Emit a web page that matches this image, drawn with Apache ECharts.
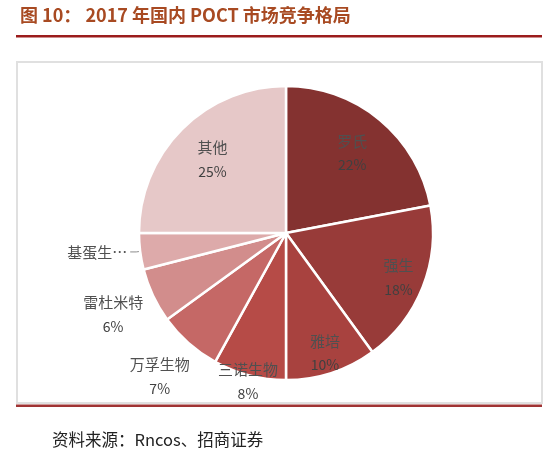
<!DOCTYPE html>
<html>
<head>
<meta charset="utf-8">
<script src="https://cdn.jsdelivr.net/npm/echarts@6/dist/echarts.min.js"></script>
<style>
  html, body { margin: 0; padding: 0; background: #fff; }
  #chart { width: 554px; height: 459px; }
</style>
</head>
<body>
<div id="chart"></div>
<script>
// ---- data ----
const titleText = '图 10： 2017 年国内 POCT 市场竞争格局';
const sourceText = '资料来源：Rncos、招商证券';
const companies = ['罗氏', '强生', '雅培', '三诺生物', '万孚生物', '雷杜米特', '基蛋生物', '其他'];
const shares = [22, 18, 10, 8, 7, 6, 4, 25];

// ---- styling ----
const palette = ['#843230', '#983B39', '#A8423F', '#B64B47', '#C56866', '#D28D8C', '#DDAAAA', '#E6C8C8'];
const CENTER = [286, 233];
const R = 147;
const labelFont = '"Noto Sans CJK SC", "Noto Sans", sans-serif';
const labelRich = {
  n: { fontSize: 15, color: '#505050', fontFamily: labelFont, lineHeight: 24 },
  p: { fontSize: 14, color: '#404040', fontFamily: labelFont, lineHeight: 24 }
};

const chart = echarts.init(document.getElementById('chart'), null, { renderer: 'canvas' });

function mainData() {
  return companies.map((n, i) => {
    const item = { name: n, value: shares[i], itemStyle: { color: palette[i] } };
    if (n === '基蛋生物') {
      item.label = { show: true };
      item.labelLine = { show: true };
    }
    return item;
  });
}

// transparent ring carrying inside labels at a chosen radius
function labelRing(mid, shown) {
  return {
    type: 'pie',
    center: CENTER,
    radius: [mid - 10, mid + 10],
    startAngle: 90,
    clockwise: true,
    silent: true,
    animation: false,
    avoidLabelOverlap: false,
    itemStyle: { color: 'transparent', borderWidth: 0 },
    emphasis: { disabled: true },
    labelLine: { show: false },
    label: {
      position: 'inside',
      rich: labelRich,
      formatter: p => '{n|' + p.name + '}\n{p|' + p.value + '%}'
    },
    data: companies.map((n, i) => ({
      name: n, value: shares[i], label: { show: shown.indexOf(n) >= 0 }
    }))
  };
}

const option = {
  animation: false,
  graphic: [
    { type: 'text', left: 20, top: 6,
      style: { text: titleText, fill: '#A84A22', font: 'bold 18px "Noto Sans CJK SC", sans-serif' } },
    { type: 'rect', shape: { x: 16, y: 35, width: 526, height: 2.5 }, style: { fill: '#9B1C1C' } },
    { type: 'rect', shape: { x: 17, y: 62, width: 525, height: 341 },
      style: { fill: 'none', stroke: '#E0E0E0', lineWidth: 2 } },
    { type: 'rect', shape: { x: 16, y: 404.5, width: 526, height: 2.5 }, style: { fill: '#A03434' } },
    { type: 'text', left: 52, top: 431,
      style: { text: sourceText, fill: '#222', font: '16.5px "Noto Sans CJK SC", sans-serif' } }
  ],
  series: [
    {
      type: 'pie',
      center: CENTER,
      radius: [0, R],
      startAngle: 90,
      clockwise: true,
      silent: true,
      avoidLabelOverlap: false,
      itemStyle: { borderColor: '#fff', borderWidth: 2.5 },
      label: {
        show: false,
        position: 'outside',
        color: '#505050',
        fontSize: 15,
        fontFamily: labelFont,
        distanceToLabelLine: 3,
        formatter: p => p.name.slice(0, 3) + '…'
      },
      labelLine: { show: false, length: 4, length2: 6, lineStyle: { color: '#8C8C8C', width: 1 } },
      data: mainData()
    },
    labelRing(101, ['罗氏', '其他']),
    labelRing(118, ['强生']),
    labelRing(123, ['雅培']),
    labelRing(150, ['三诺生物']),
    labelRing(188, ['万孚生物', '雷杜米特'])
  ]
};
chart.setOption(option);
</script>
</body>
</html>
